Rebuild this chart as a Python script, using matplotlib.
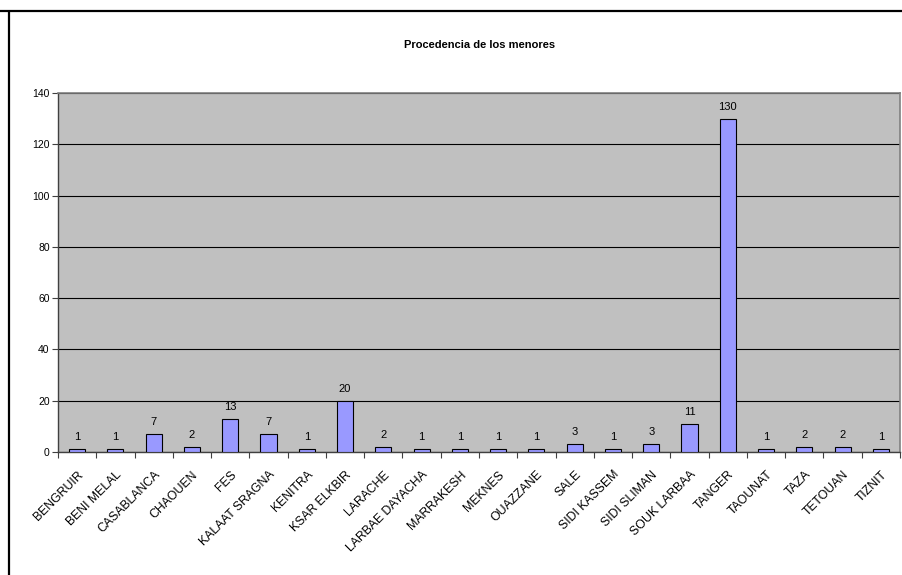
import numpy as np
import matplotlib
matplotlib.use("Agg")
import matplotlib.pyplot as plt
from matplotlib.lines import Line2D

plt.rcParams['font.family'] = ['Liberation Sans', 'DejaVu Sans']

ciudades = ["BENGRUIR", "BENI MELAL", "CASABLANCA", "CHAOUEN", "FES",
            "KALAAT SRAGNA", "KENITRA", "KSAR ELKBIR", "LARACHE",
            "LARBAE DAYACHA", "MARRAKESH", "MEKNES", "OUAZZANE", "SALE",
            "SIDI KASSEM", "SIDI SLIMAN", "SOUK LARBAA", "TANGER", "TAOUNAT",
            "TAZA", "TETOUAN", "TIZNIT"]
menores = [1, 1, 7, 2, 13, 7, 1, 20, 2, 1, 1, 1, 1, 3, 1, 3, 11, 130, 1, 2, 2, 1]

ind = np.arange(len(ciudades))

fig = plt.figure(figsize=(9.03, 5.75), dpi=100)
ax = fig.add_axes([58/903, 123/575, 842/903, 359/575])

ax.set_facecolor('#C0C0C0')
barras = ax.bar(ind, menores, 0.42, color='#9999FF', edgecolor='black', linewidth=0.8, zorder=3)

ax.set_xlim(-0.5, len(ciudades) - 0.5)
ax.set_ylim(0, 140)
ax.set_yticks(range(0, 141, 20))
ax.yaxis.grid(True, color='black', linewidth=0.8, zorder=1)
ax.set_axisbelow(True)

# ticks entre categorias
ax.set_xticks(np.arange(-0.5, len(ciudades), 1.0))
ax.set_xticklabels([])
ax.tick_params(axis='x', length=4, width=0.8, color='#404040')
ax.tick_params(axis='y', length=4, width=0.8, color='#404040', labelsize=7.5, pad=2)

for i, nombre in enumerate(ciudades):
    ax.annotate(nombre, (i, 0), xytext=(0, -12), textcoords='offset points',
                rotation=45, ha='right', va='top', rotation_mode='anchor',
                fontsize=8.8)

for s in ['left', 'bottom']:
    ax.spines[s].set_color('#404040')
    ax.spines[s].set_linewidth(1.0)
for s in ['top', 'right']:
    ax.spines[s].set_color('#808080')
    ax.spines[s].set_linewidth(1.2)

# etiquetas de valor
for rect in barras:
    h = rect.get_height()
    ax.annotate(str(int(h)), (rect.get_x() + rect.get_width()/2, h),
                xytext=(0, 5), textcoords='offset points',
                ha='center', va='bottom', fontsize=8)

fig.text(480/903, 1 - 45/575, 'Procedencia de los menores', ha='center', va='center',
         fontsize=8, fontweight='bold')

# bordes de la hoja
fig.add_artist(Line2D([0, 1], [1 - 11/575, 1 - 11/575], color='black', linewidth=1.6))
fig.add_artist(Line2D([9/903, 9/903], [0, 1 - 13/575], color='black', linewidth=1.6))

fig.savefig('out.png', dpi=100)
